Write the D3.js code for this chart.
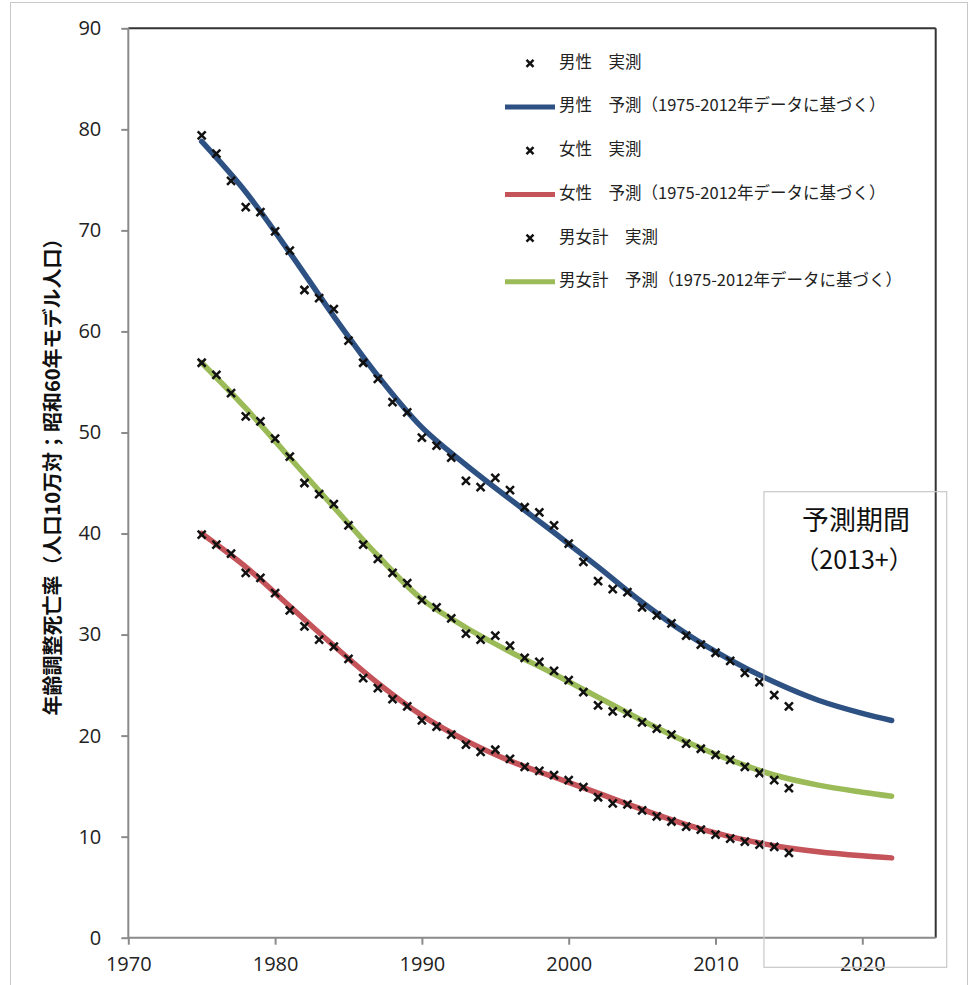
<!DOCTYPE html>
<html><head><meta charset="utf-8">
<script src="https://cdn.jsdelivr.net/npm/d3@7"></script>
<style>body{margin:0;background:#fff;} svg{display:block;}</style>
</head><body>
<svg id="c" width="971" height="985"></svg>
<script>
const years = d3.range(1975, 2016);
const maleActual = [79.4,77.6,74.9,72.3,71.8,69.9,68.0,64.1,63.3,62.2,
  59.1,56.9,55.3,53.0,52.0,49.5,48.7,47.5,45.2,44.6,
  45.5,44.3,42.6,42.1,40.8,39.0,37.2,35.3,34.5,34.2,
  32.7,31.9,31.1,29.9,29.0,28.2,27.4,26.2,25.3,24.0,22.9];
const femaleActual = [39.9,38.9,38.0,36.1,35.6,34.1,32.4,30.8,29.5,28.8,
  27.6,25.7,24.7,23.6,22.9,21.5,20.9,20.1,19.1,18.4,
  18.6,17.7,16.9,16.5,16.1,15.6,14.9,13.9,13.3,13.2,
  12.6,12.0,11.5,11.0,10.7,10.2,9.8,9.5,9.2,9.0,8.4];
const totalActual = [56.9,55.7,53.9,51.6,51.1,49.4,47.6,45.0,43.9,42.9,
  40.8,38.9,37.5,36.1,35.1,33.4,32.7,31.6,30.1,29.5,
  29.9,28.9,27.7,27.3,26.4,25.5,24.3,23.0,22.4,22.2,
  21.3,20.7,20.1,19.2,18.7,18.1,17.6,16.9,16.3,15.6,14.8];

const fitYears = [1975,1978,1981,1984,1987,1990,1993,1996,1999,2002,2005,2008,2011,2014,2017,2020,2022];
const maleFit   = [78.8,73.8,67.8,61.5,55.6,50.5,46.8,43.4,40.1,36.7,33.2,30.1,27.5,25.3,23.5,22.2,21.5];
const femaleFit = [40.0,36.7,32.8,28.9,25.2,22.0,19.5,17.5,15.9,14.3,12.7,11.2,10.0,9.1,8.5,8.1,7.9];
const totalFit  = [56.9,52.4,47.5,42.6,37.8,33.5,30.7,28.3,26.1,23.8,21.5,19.4,17.6,16.1,15.1,14.4,14.0];

const xTicks = [1970,1980,1990,2000,2010,2020];
const yTicks = [0,10,20,30,40,50,60,70,80,90];
const legendLabels = ["男性\u3000実測","男性\u3000予測（1975-2012年データに基づく）","女性\u3000実測","女性\u3000予測（1975-2012年データに基づく）","男女計\u3000実測","男女計\u3000予測（1975-2012年データに基づく）"];
const yTitle = "年齢調整死亡率（人口10万対；昭和60年モデル人口）";
const boxTitle = "予測期間";
const boxSub = "（2013+）";
const forecastStart = 2013.3;

const colors = {male:"#2d5182", female:"#c4535a", total:"#9bbb59"};

const svg = d3.select("#c");
const L = 128.3, R = 935.7, T = 28.3, B = 937.7;
const x = d3.scaleLinear().domain([1970, 2025]).range([L, R]);
const y = d3.scaleLinear().domain([0, 90]).range([B, T]);

// outer chart border
svg.append("rect").attr("x",10.5).attr("y",2.5).attr("width",957).attr("height",995)
  .attr("fill","none").attr("stroke","#c8c8c8").attr("stroke-width",1);

// plot border top/right
svg.append("line").attr("x1",L).attr("x2",R).attr("y1",T).attr("y2",T).attr("stroke","#333").attr("stroke-width",2);
svg.append("line").attr("x1",R).attr("x2",R).attr("y1",T).attr("y2",B).attr("stroke","#333").attr("stroke-width",2);

// axes
const xAxis = d3.axisBottom(x).tickValues(xTicks).tickFormat(d3.format("d")).tickSize(7).tickPadding(12);
const yAxis = d3.axisLeft(y).tickValues(yTicks).tickSize(7).tickPadding(20);
const gx = svg.append("g").attr("transform",`translate(0,${B})`).call(xAxis);
const gy = svg.append("g").attr("transform",`translate(${L},0)`).call(yAxis);
[gx,gy].forEach(g=>{
  g.select(".domain").attr("stroke","#8a8a8a").attr("stroke-width",2);
  g.selectAll(".tick line").attr("stroke","#8a8a8a").attr("stroke-width",2);
  g.selectAll(".tick text").attr("fill","#222").style("font-family","'Open Sans', 'Liberation Sans', sans-serif").style("font-size","20px");
});
gy.select(".domain").attr("d",`M0,${B}V${T}`);
gx.select(".domain").attr("d",`M${L},0H${R}`);

// y title
svg.append("text").attr("transform",`translate(55,472) rotate(-90)`)
  .attr("text-anchor","middle").attr("dominant-baseline","middle")
  .style("font-family","'Noto Sans CJK JP', sans-serif").style("font-weight","bold").style("font-size","20px")
  .attr("fill","#111").text(yTitle);

// fitted lines
const line = d3.line().x(d=>x(d[0])).y(d=>y(d[1])).curve(d3.curveCatmullRom.alpha(0.5));
[["total",totalFit],["female",femaleFit],["male",maleFit]].forEach(([k,arr])=>{
  svg.append("path").attr("d", line(fitYears.map((yr,i)=>[yr,arr[i]])))
    .attr("fill","none").attr("stroke",colors[k]).attr("stroke-width",5.5).attr("stroke-linecap","round");
});

// markers
function cross(g, cx, cy, s){
  g.append("path").attr("d",`M${cx-s},${cy-s}L${cx+s},${cy+s}M${cx-s},${cy+s}L${cx+s},${cy-s}`)
   .attr("stroke","#111").attr("stroke-width",2.5).attr("fill","none");
}
const mg = svg.append("g");
[maleActual,femaleActual,totalActual].forEach(arr=>{
  arr.forEach((v,i)=>cross(mg, x(years[i]), y(v), 4));
});

// legend
const lg = svg.append("g");
const ly0 = 63.3, ldy = 43.7;
legendLabels.forEach((t,i)=>{
  const yy = ly0 + i*ldy;
  if (i%2===0) cross(lg, 530, yy, 3.5);
  else {
    const c = [colors.male,colors.female,colors.total][(i-1)/2];
    lg.append("line").attr("x1",505).attr("x2",555).attr("y1",yy).attr("y2",yy).attr("stroke",c).attr("stroke-width",5);
  }
  lg.append("text").attr("x",559).attr("y",yy).attr("dominant-baseline","middle")
    .style("font-family","'Noto Sans CJK JP', sans-serif").style("font-size","16.5px").attr("fill","#222").text(t);
});

// forecast box
svg.append("rect").attr("x",x(forecastStart)).attr("y",491.7).attr("width",946.7-x(forecastStart)).attr("height",475.6)
  .attr("fill","none").attr("stroke","#c8c8c8").attr("stroke-width",1.2);
svg.append("text").attr("x",856).attr("y",530).attr("text-anchor","middle")
  .style("font-family","'Noto Sans CJK JP', sans-serif").style("font-size","27px").attr("fill","#111").text(boxTitle);
svg.append("text").attr("x",854).attr("y",569).attr("text-anchor","middle")
  .style("font-family","'Noto Sans CJK JP', sans-serif").style("font-size","25px").attr("fill","#111").text(boxSub);
</script>
</body></html>
